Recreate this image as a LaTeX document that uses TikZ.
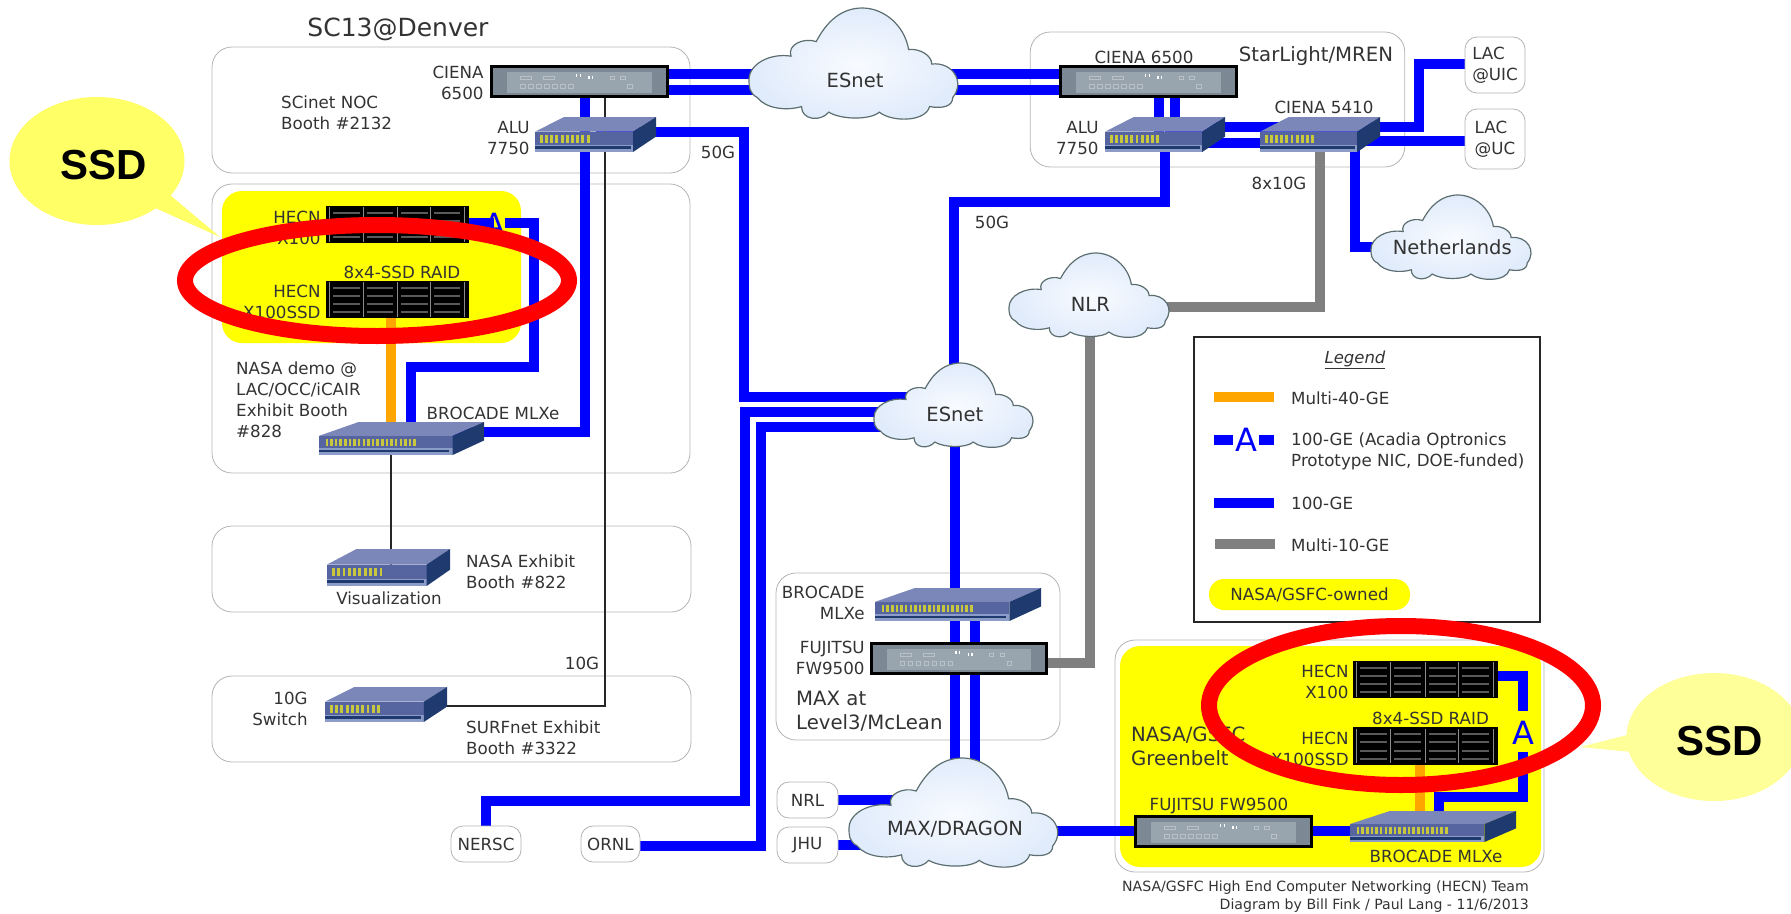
\documentclass[tikz,border=0pt]{standalone}
\usepackage{fontspec}
\setmainfont{DejaVu Sans}
\newfontfamily\calloutfont{Liberation Sans}
\usetikzlibrary{positioning, shapes.callouts}
\definecolor{clrlink}{HTML}{0000FF}
\definecolor{clrmulti}{HTML}{FFA500}
\definecolor{clrten}{HTML}{808080}
\definecolor{clrowned}{HTML}{FFFF00}
\definecolor{clrring}{HTML}{FF0000}
\definecolor{clrframe}{HTML}{B4B4B4}
\definecolor{clrtext}{HTML}{333333}
\definecolor{clrbubble_a}{HTML}{FFFF66}
\definecolor{clrbubble_b}{HTML}{FFFF99}
\definecolor{clrcloud_in}{HTML}{F8FBFF}
\definecolor{clrcloud_out}{HTML}{E0EBFB}
\definecolor{clrcloud_line}{HTML}{5C6E70}
\definecolor{clrsw_top}{HTML}{7A87B8}
\definecolor{clrsw_face}{HTML}{56659F}
\definecolor{clrsw_lip}{HTML}{8C9CC8}
\definecolor{clrsw_side}{HTML}{1F3A6E}
\definecolor{clrport}{HTML}{C9C83C}
\definecolor{clrcase}{HTML}{7C8994}
\definecolor{clrpanel}{HTML}{98A4AE}
\definecolor{clrmark}{HTML}{B9C0C6}
\definecolor{clrbar}{HTML}{5A5A5A}
\pgfdeclarelayer{back}
\pgfdeclarelayer{links}
\pgfsetlayers{back,links,main}
% cloud: name, left, top, width, height, text, text height
\newcommand{\netcloud}[7]{
  \begin{scope}[shift={(#2,#3)},x=#4pt,y=-#5pt]
    \shade[inner color=clrcloud_in, outer color=clrcloud_out, draw=clrcloud_line, line width=1.2pt]
      (0,.64) .. controls (0,.50) and (.10,.40) .. (.20,.43)
      .. controls (.18,.33) and (.26,.26) .. (.32,.30)
      .. controls (.37,.12) and (.44,0) .. (.54,0)
      .. controls (.64,0) and (.74,.15) .. (.76,.37)
      .. controls (.81,.36) and (.87,.42) .. (.87,.50)
      .. controls (.97,.48) and (1.03,.66) .. (.97,.80)
      .. controls (.97,.88) and (.92,.90) .. (.86,.88)
      .. controls (.84,1.02) and (.68,1.02) .. (.62,.93)
      .. controls (.58,1.0) and (.44,1.0) .. (.38,.93)
      .. controls (.34,1.02) and (.25,1.0) .. (.25,.88)
      .. controls (.18,.92) and (.08,.90) .. (.04,.80)
      .. controls (0,.76) and (0,.70) .. (0,.64) -- cycle;
    \node[cloudtag] (#1) at (.505,#7) {#6};
  \end{scope}}
% switch: name, left, top, width, height, ports
\newcommand{\netswitch}[6]{
  \node[device, minimum width=#4pt, minimum height=#5pt] (#1) at (#2+#4/2,#3+#5/2) {};
  \begin{scope}[shift={(#2,#3)},x=#4pt,y=-#5pt]
    \fill[clrsw_top] (0,.42) -- (.24,0) -- (1,0) -- (.81,.42) -- cycle;
    \fill[clrsw_face] (0,.42) rectangle (.81,1);
    \fill[clrsw_lip] (0,.80) rectangle (.81,1);
    \fill[clrsw_side] (0,.84) rectangle (.79,.92);
    \fill[clrsw_side] (.81,.42) -- (1,0) -- (1,.56) -- (.81,1) -- cycle;
    \pgfmathsetmacro{\portstep}{(.3+#6*.013)/#6}
    \foreach \i in {1,...,#6}
      \fill[clrport] (.04+\i*\portstep-\portstep,.50) rectangle ++(\portstep*.55,.24);
  \end{scope}}
% chassis: name, left, top, width, height
\newcommand{\netchassis}[5]{
  \node[device, minimum width=#4pt, minimum height=#5pt] (#1) at (#2+#4/2,#3+#5/2) {};
  \begin{scope}[shift={(#2,#3)},x=#4pt,y=-#5pt]
    \draw[black, fill=clrcase, line width=3pt] (.008,.03) rectangle (.992,.97);
    \fill[clrpanel] (.095,.18) rectangle (.905,.87);
    \draw[clrmark, line width=.8pt] (.17,.32) rectangle (.23,.44) (.30,.32) rectangle (.36,.44);
    \foreach \u in {.17,.215,...,.47}
      \draw[clrmark, line width=.8pt] (\u,.60) rectangle ++(.025,.12);
    \foreach \u/\v in {.48/.27,.50/.27,.55/.33,.57/.33}
      \fill[white] (\u,\v) rectangle ++(.008,.08);
    \draw[clrmark, line width=.8pt] (.67,.32) rectangle ++(.025,.12) (.73,.32) rectangle ++(.025,.12) (.77,.60) rectangle ++(.025,.12);
  \end{scope}}
% disk server: name, left, top, width, height
\newcommand{\netserver}[5]{
  \node[device, fill=black, minimum width=#4pt, minimum height=#5pt] (#1) at (#2+#4/2,#3+#5/2) {};
  \begin{scope}[shift={(#2,#3)},x=#4pt,y=-#5pt]
    \foreach \u in {.025,.26,.50,.73,.97}
      \fill[clrbar!70!white] (\u-.004,.04) rectangle (\u+.004,.96);
    \foreach \u in {.05,.285,.525,.755}
      \foreach \v in {.16,.38,.60,.82}
        \fill[clrbar] (\u,\v) rectangle ++(.185,.05);
  \end{scope}}

\begin{document}
\begin{tikzpicture}[
    x=1pt, y=-1pt,
    every node/.style={inner sep=0pt},
    device/.style={inner sep=0pt},
    tag/.style={font=\fontsize{16.7}{21}\selectfont, text=clrtext, align=left},
    righttag/.style={tag, align=right},
    cloudtag/.style={font=\fontsize{19.5}{23}\selectfont, text=clrtext},
    headtag/.style={font=\fontsize{19.7}{24}\selectfont, text=clrtext, align=left},
    group/.style={draw=clrframe, line width=0.8pt, rounded corners=20pt},
    owned/.style={fill=clrowned, rounded corners=20pt},
    site/.style={draw=clrframe, fill=white, line width=0.8pt, rounded corners=12pt, tag, align=left},
    linkblue/.style={draw=clrlink, line width=9.5pt},
    linkmulti/.style={draw=clrmulti, line width=9.5pt},
    linkten/.style={draw=clrten, line width=9.5pt},
    linkthin/.style={draw=black!85, line width=2pt},
    acadia/.style={font=\fontsize{32}{32}\selectfont, text=clrlink, text height=23pt, text depth=0pt},
    ring/.style={draw=clrring, line width=16pt},
    bubble/.style={ellipse callout, minimum width=175pt, minimum height=128pt},
    bubbletag/.style={font=\calloutfont\fontsize{42}{42}\selectfont\bfseries, text=black},
]
\clip (0,0) rectangle (1791,913);
\useasboundingbox (0,0) rectangle (1791,913);
% regions
\begin{pgfonlayer}{back}
\node[group, minimum width=478pt, minimum height=126pt] (g_noc) at (451,110) {};
\node[group, minimum width=478pt, minimum height=289pt] (g_demo) at (451,328.5) {};
\node[owned, minimum width=299pt, minimum height=152pt] (g_owned_a) at (371.5,267) {};
\node[group, minimum width=479pt, minimum height=86pt] (g_vis) at (451.5,569) {};
\node[group, minimum width=479pt, minimum height=86pt] (g_surf) at (451.5,719) {};
\node[group, minimum width=284pt, minimum height=167pt] (g_max) at (918,656.5) {};
\node[group, minimum width=374.5pt, minimum height=135pt] (g_star) at (1217.5,99.5) {};
\node[group, minimum width=429pt, minimum height=232pt] (g_green) at (1329.5,756) {};
\node[owned, minimum width=421pt, minimum height=221pt] (g_owned_b) at (1330.5,756.5) {};
\end{pgfonlayer}
% clouds
\netcloud{esnet_a}{749}{8}{210}{112}{ESnet}{.645}
\netcloud{esnet_b}{874}{363}{160}{85}{ESnet}{.61}
\netcloud{nlr}{1009}{253}{161}{85}{NLR}{.61}
\netcloud{netherlands}{1371}{195}{161}{85}{Netherlands}{.61}
\netcloud{dragon}{849}{758}{210}{110}{MAX/DRAGON}{.645}
% devices
\netchassis{ciena_a}{490}{66}{179}{31}
\netchassis{ciena_c}{1059}{66}{179}{31}
\netchassis{fujitsu_a}{870}{643}{178}{31}
\netchassis{fujitsu_b}{1134}{816}{179}{31}
\netswitch{alu_a}{535}{117}{121}{35}{10}
\netswitch{alu_b}{1105}{117}{120}{35}{10}
\netswitch{ciena_d}{1260}{117}{120}{35}{10}
\netswitch{brocade_a}{319}{422}{165}{33}{20}
\netswitch{brocade_b}{875}{588}{166}{33}{20}
\netswitch{brocade_c}{1350}{811}{166}{31}{20}
\netswitch{vis_sw}{327}{549}{123}{37}{10}
\netswitch{ten_sw}{325}{687}{122}{35}{10}
\netserver{x100_a}{326}{206}{143}{37}
\netserver{ssd_a}{326}{281}{143}{37}
\netserver{x100_c}{1353}{661}{145}{37}
\netserver{ssd_c}{1353}{727}{145}{38}
% sites
\node[site, minimum width=60pt, minimum height=56pt] (lac_uic) at (1495,65) {LAC\\@UIC};
\node[site, minimum width=60pt, minimum height=60pt] (lac_uc) at (1495,139) {LAC\\@UC};
\node[site, minimum width=70pt, minimum height=36pt] (nersc) at (486,844) {NERSC};
\node[site, minimum width=59pt, minimum height=36pt] (ornl) at (610.5,844) {ORNL};
\node[site, minimum width=61pt, minimum height=36pt] (nrl) at (807.5,800) {NRL};
\node[site, minimum width=61pt, minimum height=36pt] (jhu) at (807.5,845) {JHU};
\node[acadia] (a_a) at (494,225) {A};
\node[acadia] (a_b) at (1523,733) {A};
% links
\begin{pgfonlayer}{links}
\draw[linkblue] (ciena_a |- 0,74) -- (esnet_a |- 0,74);
\draw[linkblue] (ciena_a |- 0,90) -- (esnet_a |- 0,90);
\draw[linkblue] (esnet_a |- 0,74) -- (ciena_c |- 0,74);
\draw[linkblue] (esnet_a |- 0,90) -- (ciena_c |- 0,90);
\draw[linkblue] (585,0 |- ciena_a) -- (585,0 |- alu_a);
\draw[linkblue] (585,0 |- alu_a) |- (brocade_a |- 0,432);
\draw[linkblue] (alu_a |- 0,132) -| (744,397) -- (esnet_b |- 0,397);
\draw[linkblue] (esnet_b |- 0,412) -| (745,801) -| (nersc);
\draw[linkblue] (esnet_b |- 0,427) -| (761,846) -- (ornl |- 0,846);
\draw[linkblue] (x100_a |- 0,223) -- (a_a |- 0,223);
\draw[linkblue] (a_a.east |- 0,223) -| (534,367) -| (411,0 |- brocade_a);
\draw[linkmulti] (391,0 |- ssd_a) -- (391,0 |- brocade_a);
\draw[linkthin] (391,0 |- brocade_a) -- (391,0 |- vis_sw);
\draw[linkthin] (605,0 |- ciena_a) |- (ten_sw |- 0,706);
\draw[linkblue] (1159,0 |- ciena_c) -- (1159,0 |- alu_b);
\draw[linkblue] (1175,0 |- ciena_c) -- (1175,0 |- alu_b);
\draw[linkblue] (alu_b |- 0,127) -- (ciena_d |- 0,127);
\draw[linkblue] (alu_b |- 0,143) -- (ciena_d |- 0,143);
\draw[linkblue] (ciena_d |- 0,127) -| (1419,64) -- (lac_uic |- 0,64);
\draw[linkblue] (ciena_d |- 0,141) -- (lac_uc |- 0,141);
\draw[linkblue] (1355,0 |- ciena_d) |- (netherlands);
\draw[linkten] (1320,0 |- ciena_d) |- (nlr |- 0,307);
\draw[linkten] (1090,0 |- nlr) |- (fujitsu_a |- 0,663);
\draw[linkblue] (1165,0 |- alu_b) |- (954,202) -- (954,0 |- esnet_b);
\draw[linkblue] (955,0 |- esnet_b) -- (955,0 |- brocade_b);
\draw[linkblue] (955,0 |- brocade_b) -- (955,0 |- fujitsu_a);
\draw[linkblue] (955,0 |- fujitsu_a) -- (955,0 |- dragon);
\draw[linkblue] (975,0 |- brocade_b) -- (975,0 |- fujitsu_a);
\draw[linkblue] (975,0 |- fujitsu_a) -- (975,0 |- dragon);
\draw[linkblue] (nrl) -- (dragon |- nrl);
\draw[linkblue] (jhu) -- (dragon |- jhu);
\draw[linkblue] (dragon |- 0,831) -- (fujitsu_b |- 0,831);
\draw[linkblue] (fujitsu_b |- 0,831) -- (brocade_c |- 0,831);
\draw[linkblue] (x100_c |- 0,676) -| (a_b |- 0,711);
\draw[linkblue] (a_b |- 0,752) |- (1439,797) -- (1439,0 |- brocade_c);
\draw[linkmulti] (1420,0 |- ssd_c) -- (1420,0 |- brocade_c);
\end{pgfonlayer}
% labels
\node[font=\fontsize{25}{30}\selectfont, text=clrtext] (t_sc13) at (398,29) {SC13@Denver};
\node[tag, anchor=west] (t_noc) at (281,112.5) {SCinet NOC\\Booth \#2132};
\node[righttag, left=6pt of ciena_a, yshift=-1pt] (t_ciena_a) {CIENA\\6500};
\node[righttag, left=5pt of alu_a, yshift=-3.5pt] (t_alu_a) {ALU\\7750};
\node[righttag, left=5pt of x100_a, yshift=-3pt] (t_x100_a) {HECN\\X100};
\node[righttag, left=5pt of ssd_a, yshift=-2pt] (t_ssd_a) {HECN\\X100SSD};
\node[tag] (t_raid_a) at (402,272) {8x4-SSD RAID};
\node[tag, anchor=west] (t_demo) at (236,399.5) {NASA demo @\\LAC/OCC/iCAIR\\Exhibit Booth\\\#828};
\node[tag] (t_brocade_a) at (493,413) {BROCADE MLXe};
\node[tag] (t_vis) at (389,598) {Visualization};
\node[tag, anchor=west] (t_nasa_ex) at (466,571.5) {NASA Exhibit\\Booth \#822};
\node[tag] (t_ten) at (582,663) {10G};
\node[righttag, left=17pt of ten_sw, yshift=-4pt] (t_ten_sw) {10G\\Switch};
\node[tag, anchor=west] (t_surf) at (466,737.5) {SURFnet Exhibit\\Booth \#3322};
\node[tag] (t_50a) at (718,152) {50G};
\node[tag] (t_50b) at (992,222) {50G};
\node[tag] (t_810) at (1279,183) {8x10G};
\node[tag] (t_ciena_c) at (1144,57) {CIENA 6500};
\node[headtag] (t_star) at (1316,56) {StarLight/MREN};
\node[righttag, left=6pt of alu_b, yshift=-3.5pt] (t_alu_b) {ALU\\7750};
\node[tag] (t_ciena_d) at (1324,107) {CIENA 5410};
\node[righttag, left=10pt of brocade_b, yshift=1.5pt] (t_brocade_b) {BROCADE\\MLXe};
\node[righttag, left=5pt of fujitsu_a, yshift=1pt] (t_fujitsu_a) {FUJITSU\\FW9500};
\node[headtag, anchor=west] (t_max) at (796,711.5) {MAX at\\Level3/McLean};
\node[headtag, anchor=west] (t_green) at (1131,746) {NASA/GSFC\\Greenbelt};
\node[righttag, left=4pt of x100_c, yshift=-2pt] (t_x100_c) {HECN\\X100};
\node[righttag, left=4pt of ssd_c, yshift=-2.5pt] (t_ssd_c) {HECN\\X100SSD};
\node[tag] (t_raid_c) at (1430.5,718) {8x4-SSD RAID};
\node[tag] (t_fujitsu_b) at (1219,806) {FUJITSU FW9500};
\node[tag] (t_brocade_c) at (1436,856) {BROCADE MLXe};
\node[font=\fontsize{14.1}{18}\selectfont, text=clrtext, align=right, anchor=east] (t_credit) at (1529,897) {NASA/GSFC High End Computer Networking (HECN) Team\\Diagram by Bill Fink / Paul Lang - 11/6/2013};
% legend
\node[draw=black!85, line width=2.5pt, minimum width=346pt, minimum height=285pt] (g_legend) at (1367,479.5) {};
\node[tag, font=\fontsize{16.5}{21}\selectfont\itshape] (t_legend) at (1355,360) {\underline{Legend}};
\node[tag, anchor=west] (t_multi) at (1291,398) {Multi-40-GE};
\node[tag, anchor=west] (t_acadia) at (1291,451) {100-GE (Acadia Optronics\\Prototype NIC, DOE-funded)};
\node[tag, anchor=west] (t_hundred) at (1291,503) {100-GE};
\node[tag, anchor=west] (t_multi_ten) at (1291,545) {Multi-10-GE};
\node[acadia] (a_lg) at (1246,440) {A};
\coordinate (lg_multi) at (1214,397);
\coordinate (lg_blue_a) at (1214,440);
\coordinate (lg_blue_b) at (1274,440);
\coordinate (lg_blue) at (1214,503);
\coordinate (lg_ten) at (1215,544);
\draw[linkmulti] (lg_multi) -- ++(60,0);
\draw[linkblue] (lg_blue_a) -- ++(19,0);
\draw[linkblue] (lg_blue_b) -- ++(-15,0);
\draw[linkblue] (lg_blue) -- ++(60,0);
\draw[linkten] (lg_ten) -- ++(60,0);
\node[fill=clrowned, rounded corners=15pt, minimum width=201pt, minimum height=31pt, tag] (t_owned) at (1309.5,594.5) {NASA/GSFC-owned};
% callouts and rings
\node[bubble, fill=clrbubble_a, callout absolute pointer={(220,237)}] (b_ssd_a) at (97,161) {};
\node[bubbletag] (t_ssd_a_b) at (104,165) {SSD};
\node[bubble, fill=clrbubble_b, callout absolute pointer={(1580,747)}] (b_ssd_b) at (1714,737) {};
\node[bubbletag] (t_ssd_b_b) at (1720,741) {SSD};
\draw[ring] (377,280.5) ellipse (192 and 55.5);
\draw[ring] (1401,705.5) ellipse (192 and 79.5);
\end{tikzpicture}
\end{document}
